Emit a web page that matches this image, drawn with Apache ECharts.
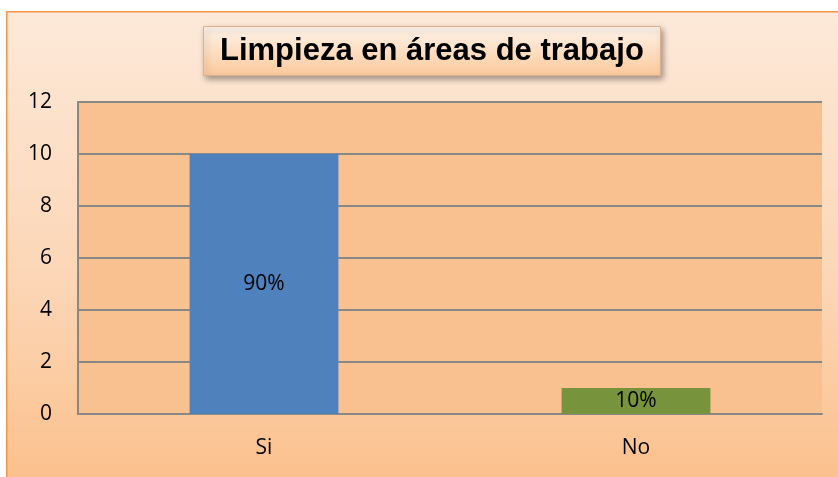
<!DOCTYPE html>
<html>
<head>
<meta charset="utf-8">
<script src="https://cdn.jsdelivr.net/npm/echarts@6/dist/echarts.min.js"></script>
<style>
  html, body { margin: 0; padding: 0; background: #fff; }
  #main { width: 838px; height: 477px; }
</style>
</head>
<body>
<div id="main"></div>
<script>
'use strict';

var categories = ['Si', 'No'];
var values = [10, 1];
var percentLabels = ['90%', '10%'];
var barColors = ['#4F81BD', '#77933C'];

var chart = echarts.init(document.getElementById('main'));

var labelFont = 'Open Sans, Noto Sans, sans-serif';

var option = {
    animation: false,
    backgroundColor: '#ffffff',
    graphic: [
        {
            type: 'rect',
            left: 6, top: 11,
            shape: { width: 840, height: 470 },
            style: {
                fill: new echarts.graphic.LinearGradient(0, 0, 0, 1, [
                    { offset: 0, color: '#FDE9D9' },
                    { offset: 0.6, color: '#FCD5B4' },
                    { offset: 1, color: '#FBC08C' }
                ]),
                stroke: '#F79646',
                lineWidth: 1.5
            },
            z: -10
        }
    ],
    title: {
        text: 'Limpieza en áreas de trabajo',
        left: 203,
        top: 26,
        padding: [10, 17, 9, 17],
        backgroundColor: new echarts.graphic.LinearGradient(0, 0, 0, 1, [
            { offset: 0, color: '#FEF3EA' },
            { offset: 1, color: '#FBC99B' }
        ]),
        borderColor: '#D9B090',
        borderWidth: 1,
        shadowBlur: 6,
        shadowColor: 'rgba(0,0,0,0.35)',
        shadowOffsetX: 2,
        shadowOffsetY: 3,
        textStyle: {
            fontFamily: 'Liberation Sans, Arial',
            fontWeight: 'bold',
            fontSize: 31,
            color: '#000'
        }
    },
    grid: {
        left: 78,
        right: 16,
        top: 102,
        bottom: 63,
        show: true,
        backgroundColor: '#F9C090',
        borderWidth: 0
    },
    xAxis: {
        type: 'category',
        data: categories,
        axisLine: { show: true, lineStyle: { color: '#888', width: 2 } },
        axisTick: { show: false },
        axisLabel: {
            margin: 24,
            fontFamily: labelFont,
            fontSize: 21,
            color: '#000'
        }
    },
    yAxis: {
        type: 'value',
        min: 0,
        max: 12,
        interval: 2,
        axisLine: { show: true, lineStyle: { color: '#888', width: 2 } },
        axisTick: { show: false },
        splitLine: { lineStyle: { color: '#888', width: 2 } },
        axisLabel: {
            margin: 26,
            fontFamily: labelFont,
            fontSize: 21,
            color: '#000'
        }
    },
    series: [{
        type: 'bar',
        barWidth: '40%',
        data: values.map(function (v, i) {
            return { value: v, itemStyle: { color: barColors[i] } };
        }),
        label: {
            show: true,
            position: 'inside',
            fontFamily: labelFont,
            fontSize: 21,
            color: '#000',
            formatter: function (p) { return percentLabels[p.dataIndex]; }
        }
    }]
};

chart.setOption(option);
</script>
</body>
</html>
